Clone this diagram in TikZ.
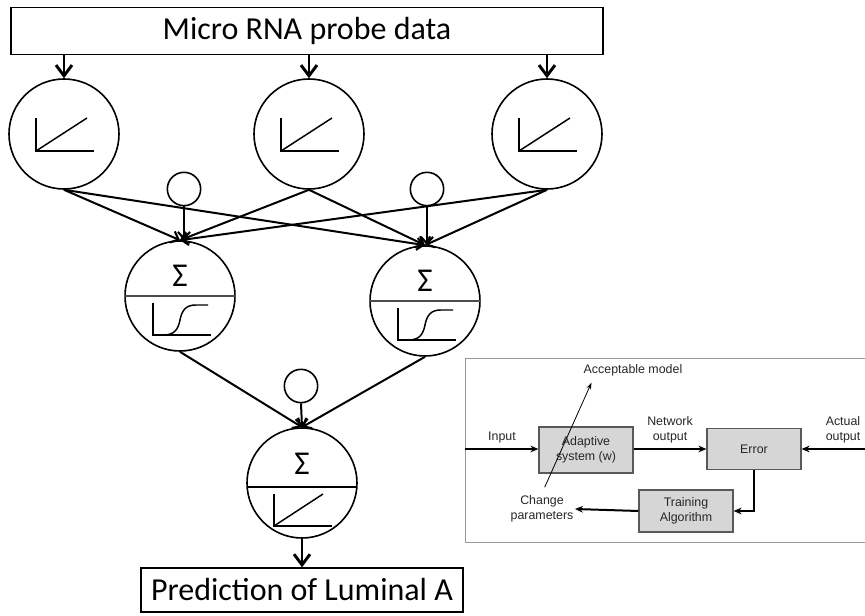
\documentclass[tikz,border=0pt]{standalone}
\usepackage{fontspec}
\setmainfont{Carlito}
\newfontfamily\arialfont{Liberation Sans}
\usetikzlibrary{arrows.meta,positioning}

\begin{document}
\begin{tikzpicture}[x=0.75pt,y=-0.75pt,
	neuron/.style={circle,draw,line width=1.2pt,minimum size=82.5pt,inner sep=0pt},
	biasnode/.style={circle,draw,line width=1.2pt,minimum size=25pt,inner sep=0pt},
	labelbox/.style={draw,line width=1pt,inner sep=0pt,font=\fontsize{24}{28}\selectfont},
	wire/.style={line width=1.5pt,-{Straight Barb[length=5pt,width=9pt,line width=1.6pt]}},
	bigwire/.style={line width=1.8pt,-{Straight Barb[length=8pt,width=12pt,line width=2.2pt]}},
	icon/.style={line width=1.1pt},
	sumsign/.style={inner sep=0pt,font=\fontsize{25}{28}\selectfont},
	panel/.style={draw=black!40,line width=1pt},
	blk/.style={draw=black!65,fill=black!16,line width=0.9pt,minimum width=70.5pt,align=center,inner sep=0pt,text=black!85,font=\arialfont\fontsize{9.3}{11.5}\selectfont},
	lbl/.style={align=center,inner sep=1pt,text=black!85,font=\arialfont\fontsize{9.3}{11.5}\selectfont},
	flow/.style={line width=1.5pt,-{Stealth[length=6pt,width=5pt]}}]

	\useasboundingbox (0,0) rectangle (865,616);

	% network
	\node[labelbox,minimum width=444pt,minimum height=35.25pt] (probe) at (307,31) {Micro RNA probe data};
	\node[neuron] (in1) at (64,134) {};
	\node[neuron] (in2) at (309,134) {};
	\node[neuron] (in3) at (547,134) {};
	\node[biasnode] (b1) at (184,189) {};
	\node[biasnode] (b2) at (427,189) {};
	\node[neuron] (h1) at (180,296) {};
	\node[neuron] (h2) at (425,301) {};
	\node[biasnode] (b3) at (301,386) {};
	\node[neuron] (out) at (302,483) {};
	\node[labelbox,minimum width=241.5pt,minimum height=33pt] (pred) at (302,590) {Prediction of Luminal A};

	% ramps in the input neurons
	\foreach \n in {in1,in2,in3} {
		\begin{scope}[shift={(\n.center)}]
			\draw[icon] (-28,-16) -- (-28,17) -- (30,17);
			\draw[icon] (-28,17) -- (23,-16);
		\end{scope}
	}

	% sum and sigmoid in the hidden neurons
	\foreach \n in {h1,h2} {
		\draw[black!70,line width=0.8pt] (\n.west) -- (\n.east);
		\begin{scope}[shift={(\n.center)}]
			\node[sumsign] at (0,-20) {Σ};
			\draw[icon] (-27,7) -- (-27,39) -- (31,39);
			\draw[icon] (-17,39) .. controls (-6,39) and (-2,34) .. (0,24)
				.. controls (2,14) and (6,9) .. (16,9) -- (28,9);
		\end{scope}
	}

	% sum and ramp in the output neuron
	\begin{scope}[shift={(out.center)}]
		\draw[line width=0.9pt] (-55,4) -- (55,4);
		\node[sumsign] at (0,-19) {Σ};
		\draw[icon] (-28,11) -- (-28,43) -- (30,43);
		\draw[icon] (-28,43) -- (21,11);
	\end{scope}

	\foreach \n in {in1,in2,in3}
		\draw[bigwire] (probe.south -| \n.north) -- (\n.north);

	\foreach \i in {1,2,3}
		\foreach \j in {h1,h2}
			\draw[wire] (in\i.south) -- (\j.north);

	\draw[wire] (b1.south) -- (b1.south |- h1.north);
	\draw[wire] (b2.south) -- (b2.south |- h2.north);

	\draw[wire] (h1.south) -- (out.north);
	\draw[wire] (h2.south) -- (out.north);
	\draw[wire] (b3.south) -- (out.north);

	\draw[bigwire] (out.south) -- (pred.north);

	% training loop inset
	\node[panel,minimum width=304pt,minimum height=138pt,anchor=north west] (frame) at (465,358) {};
	\node[blk,minimum height=34.5pt] (adapt) at (586,450) {Adaptive\\system (w)};
	\node[blk,minimum height=30.75pt] (err) at (754,449) {Error};
	\node[blk,minimum height=31.5pt] (train) at (686,511) {Training\\Algorithm};

	\coordinate (inL) at (465,449);
	\coordinate (inR) at (866,449);
	\node[lbl] (inlbl) at (502,438) {Input};
	\node[lbl] (netlbl) at (670,430) {Network\\output};
	\node[lbl] (actlbl) at (843,430) {Actual\\output};
	\node[lbl] (chg) at (542,509) {Change\\parameters};
	\node[lbl] (acc) at (633,370) {Acceptable model};

	\draw[flow] (inL) -- (inL -| adapt.west);
	\draw[flow] (adapt.east |- err.west) -- (err.west);
	\draw[flow] (inR) -- (err.east);
	\draw[flow] (err.south) |- (train.east);
	\draw[flow] (train.west) -- (chg.east);
	\draw[line width=0.6pt,-{Stealth[length=5pt,width=3.5pt]}] ([xshift=2pt,yshift=5pt]chg.north) -- ([xshift=7pt,yshift=-4pt]acc.south west);
\end{tikzpicture}
\end{document}
